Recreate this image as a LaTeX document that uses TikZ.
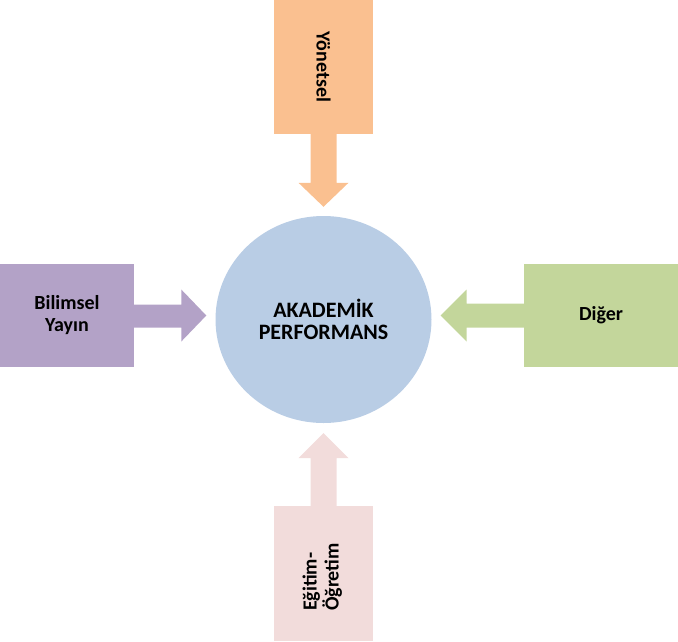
\documentclass[tikz,border=0pt]{standalone}
\usepackage{fontspec}
\setmainfont{Carlito}
\usetikzlibrary{positioning,calc,shapes.geometric}
\definecolor{ornfill}{HTML}{FAC090}
\definecolor{purfill}{HTML}{B3A2C7}
\definecolor{grnfill}{HTML}{C3D69B}
\definecolor{pnkfill}{HTML}{F2DCDB}
\definecolor{blufill}{HTML}{B9CDE5}
\tikzset{
  sidebox/.style = {rectangle, inner sep=0pt, align=center,
                    font=\fontsize{20}{22}\selectfont\bfseries},
  hbox/.style    = {sidebox, minimum width=99pt, minimum height=134pt},
  wbox/.style    = {sidebox, minimum height=103pt},
  core/.style    = {ellipse, fill=blufill, inner sep=0pt, align=center,
                    minimum width=216pt, minimum height=207pt,
                    font=\fontsize{22}{22.5}\selectfont\bfseries},
}
\begin{document}
\begin{tikzpicture}[x=1pt,y=-1pt]
  \useasboundingbox (0,0) rectangle (678,641);
  \node[core] (ak) at (323.5,319.5) {AKADEM\.{I}K\\PERFORMANS};
  \node[hbox, fill=ornfill] (yon) at (323.5,67) {\rotatebox{-90}{Yönetsel}};
  \node[hbox, fill=pnkfill, minimum height=135pt] (egi) at (323.5,573.5)
    {\rotatebox{90}{\fontsize{20}{19.5}\selectfont
     \begin{tabular}{@{}l@{}}Eğitim-\\Öğretim\end{tabular}\hspace{7pt}}};
  \node[wbox, fill=purfill, minimum width=134pt] (bil) at (67,315.5) {Bilimsel\\Yayın};
  \node[wbox, fill=grnfill, minimum width=154pt] (dig) at (601,315.5) {Diğer};
  % arrow tips, level with the side boxes
  \coordinate (bt) at ($(bil.east -| ak.west)+(-9,0)$);
  \coordinate (dt) at ($(dig.west -| ak.east)+(9,0)$);
  % block arrows into the circle
  \fill[ornfill] ($(yon.south)+(-13,0)$) -- ($(ak.north)+(-13,-33)$) -- ++(-12,0)
    -- ($(ak.north)+(0,-9)$) -- ($(ak.north)+(25,-33)$) -- ++(-12,0)
    -- ($(yon.south)+(13,0)$) -- cycle;
  \fill[pnkfill] ($(egi.north)+(-13,0)$) -- ($(ak.south)+(-13,35)$) -- ++(-12,0)
    -- ($(ak.south)+(0,10)$) -- ($(ak.south)+(25,35)$) -- ++(-12,0)
    -- ($(egi.north)+(13,0)$) -- cycle;
  \fill[purfill] ($(bil.east)+(0,-11)$) -- ($(bt)+(-25,-11)$) -- ++(0,-15)
    -- (bt) -- ($(bt)+(-25,26)$) -- ++(0,-14)
    -- ($(bil.east)+(0,12)$) -- cycle;
  \fill[grnfill] ($(dig.west)+(0,-12)$) -- ($(dt)+(26,-12)$) -- ++(0,-14)
    -- (dt) -- ($(dt)+(26,26)$) -- ++(0,-14)
    -- ($(dig.west)+(0,12)$) -- cycle;
\end{tikzpicture}
\end{document}
